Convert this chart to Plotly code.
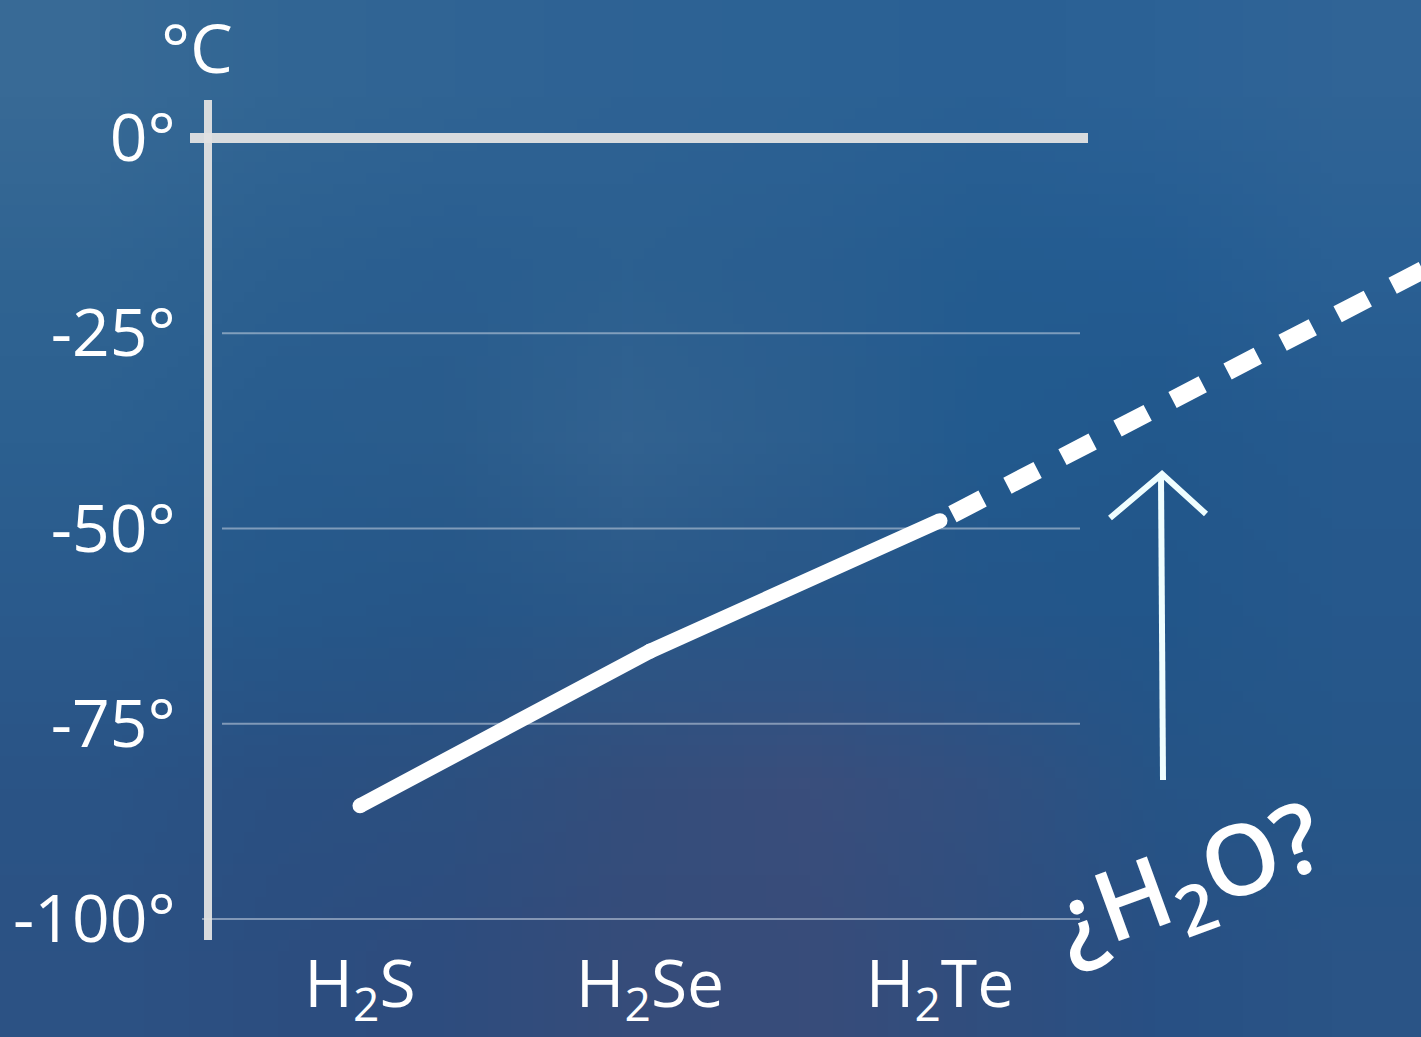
import base64
import struct
import zlib
import plotly.graph_objects as go

# ---------------- data ----------------
compounds = ["H<sub>2</sub>S", "H<sub>2</sub>Se", "H<sub>2</sub>Te"]
compound_pos = [0, 1, 2]
melting_c = [-85.5, -65.7, -49.0]
trend_x = [2, 3.8]
trend_y = [-49.0, -14.3]
y_ticks = [0, -25, -50, -75, -100]
y_ticktext = ["0°", "-25°", "-50°", "-75°", "-100°"]
grid_vals = [-25, -50, -75, -100]

# ---------------- geometry helpers ----------------
W, H = 1421, 1037
ML, MR, MT, MB = 180, 0, 100, 97
PW, PH = W - ML - MR, H - MT - MB
X_RANGE = [-0.6207, 3.6586]
Y_RANGE = [-102.69, 4.87]


def px(xpix):
    return (xpix - ML) / PW


def py(ypix):
    return (H - MB - ypix) / PH


def dx(xpix):
    return X_RANGE[0] + (xpix - ML) / PW * (X_RANGE[1] - X_RANGE[0])


# ---------------- watercolor-ish background (decoration) ----------------
bg_rows = [
    [(56, 106, 150), (50, 102, 148), (48, 100, 148), (46, 98, 148), (44, 98, 148), (42, 96, 148), (44, 98, 150), (48, 100, 150)],
    [(48, 100, 146), (44, 96, 144), (42, 94, 144), (44, 96, 144), (42, 94, 144), (36, 92, 144), (36, 92, 146), (42, 96, 148)],
    [(44, 96, 144), (40, 92, 142), (42, 92, 140), (50, 98, 144), (44, 94, 142), (34, 90, 142), (34, 88, 140), (38, 90, 142)],
    [(42, 90, 140), (38, 88, 138), (38, 86, 136), (42, 88, 136), (40, 86, 136), (36, 86, 138), (34, 86, 138), (38, 88, 140)],
    [(42, 84, 134), (42, 80, 130), (44, 80, 128), (52, 78, 124), (58, 78, 124), (50, 80, 128), (38, 84, 134), (38, 86, 136)],
    [(44, 82, 132), (44, 78, 128), (46, 76, 126), (54, 76, 122), (56, 76, 122), (48, 78, 126), (40, 80, 132), (42, 84, 134)],
]


def make_png(rows):
    h = len(rows)
    w = len(rows[0])
    raw = b"".join(b"\x00" + bytes([c for px_ in r for c in px_]) for r in rows)

    def chunk(tag, data):
        c = struct.pack(">I", len(data)) + tag + data
        return c + struct.pack(">I", zlib.crc32(tag + data) & 0xFFFFFFFF)

    png = b"\x89PNG\r\n\x1a\n"
    png += chunk(b"IHDR", struct.pack(">IIBBBBB", w, h, 8, 2, 0, 0, 0))
    png += chunk(b"IDAT", zlib.compress(raw, 9))
    png += chunk(b"IEND", b"")
    return "data:image/png;base64," + base64.b64encode(png).decode()


bg_uri = make_png(bg_rows)

WHITE = "#ffffff"
AXIS_COL = "rgba(225,225,225,0.95)"
GRID_COL = "rgba(200,212,225,0.55)"
ARROW_COL = "#effeff"
FONT = "Open Sans, Noto Sans, sans-serif"

fig = go.Figure()

fig.add_trace(
    go.Scatter(
        x=compound_pos,
        y=melting_c,
        mode="lines+markers",
        line=dict(color=WHITE, width=15),
        marker=dict(color=WHITE, size=15, line=dict(width=0)),
        hoverinfo="skip",
        showlegend=False,
    )
)
fig.add_trace(
    go.Scatter(
        x=trend_x,
        y=trend_y,
        mode="lines",
        line=dict(color=WHITE, width=18, dash="0px,14px,34px,14px"),
        hoverinfo="skip",
        showlegend=False,
    )
)

shapes = []
# grid lines
for g in grid_vals:
    shapes.append(
        dict(
            type="line", xref="x", yref="y",
            x0=dx(202 if g == -100 else 222), x1=dx(1080), y0=g, y1=g,
            line=dict(color=GRID_COL, width=2), layer="below",
        )
    )
# thick 0° line
shapes.append(
    dict(
        type="line", xref="x", yref="y",
        x0=dx(190), x1=dx(1088), y0=0, y1=0,
        line=dict(color=AXIS_COL, width=10), layer="below",
    )
)
# arrow (decoration)
shapes.append(
    dict(
        type="path", xref="paper", yref="paper",
        path=f"M {px(1163)},{py(780)} L {px(1161)},{py(476)}",
        line=dict(color=ARROW_COL, width=6),
    )
)
shapes.append(
    dict(
        type="path", xref="paper", yref="paper",
        path=f"M {px(1110)},{py(518)} L {px(1162)},{py(474)} L {px(1206)},{py(514)}",
        line=dict(color=ARROW_COL, width=6),
    )
)

annotations = [
    dict(
        text="°C", xref="paper", yref="paper", x=px(197), y=py(46),
        showarrow=False, xanchor="center", yanchor="middle",
        font=dict(family=FONT, size=68, color=WHITE),
    ),
    dict(
        text="¿H<sub>2</sub>O?", xref="paper", yref="paper", x=px(1188), y=py(882),
        showarrow=False, xanchor="center", yanchor="middle", textangle=-20,
        font=dict(family=FONT, size=98, color=WHITE, weight=600),
    ),
]

fig.update_layout(
    width=W,
    height=H,
    margin=dict(l=ML, r=MR, t=MT, b=MB, pad=0, autoexpand=False),
    paper_bgcolor="#2d5b8c",
    plot_bgcolor="rgba(0,0,0,0)",
    showlegend=False,
    shapes=shapes,
    annotations=annotations,
    images=[
        dict(
            source=bg_uri, xref="paper", yref="paper",
            x=px(0), y=py(0), sizex=W / PW, sizey=H / PH,
            xanchor="left", yanchor="top", sizing="stretch", layer="below",
        )
    ],
    xaxis=dict(
        range=X_RANGE,
        tickvals=compound_pos,
        ticktext=compounds,
        showgrid=False,
        zeroline=False,
        showline=False,
        automargin=False,
        ticks="",
        ticklabelstandoff=0,
        tickfont=dict(family=FONT, size=66, color=WHITE),
        fixedrange=True,
    ),
    yaxis=dict(
        range=Y_RANGE,
        tickvals=y_ticks,
        ticktext=y_ticktext,
        anchor="free",
        position=px(208),
        showgrid=False,
        zeroline=False,
        showline=True,
        automargin=False,
        linecolor=AXIS_COL,
        linewidth=8,
        ticks="",
        ticklabelstandoff=15,
        tickfont=dict(family=FONT, size=66, color=WHITE),
        fixedrange=True,
    ),
)

fig.write_html(
    "out.html",
    config={"displayModeBar": False},
    post_script="document.body.style.margin='0';document.body.style.overflow='hidden';",
)
